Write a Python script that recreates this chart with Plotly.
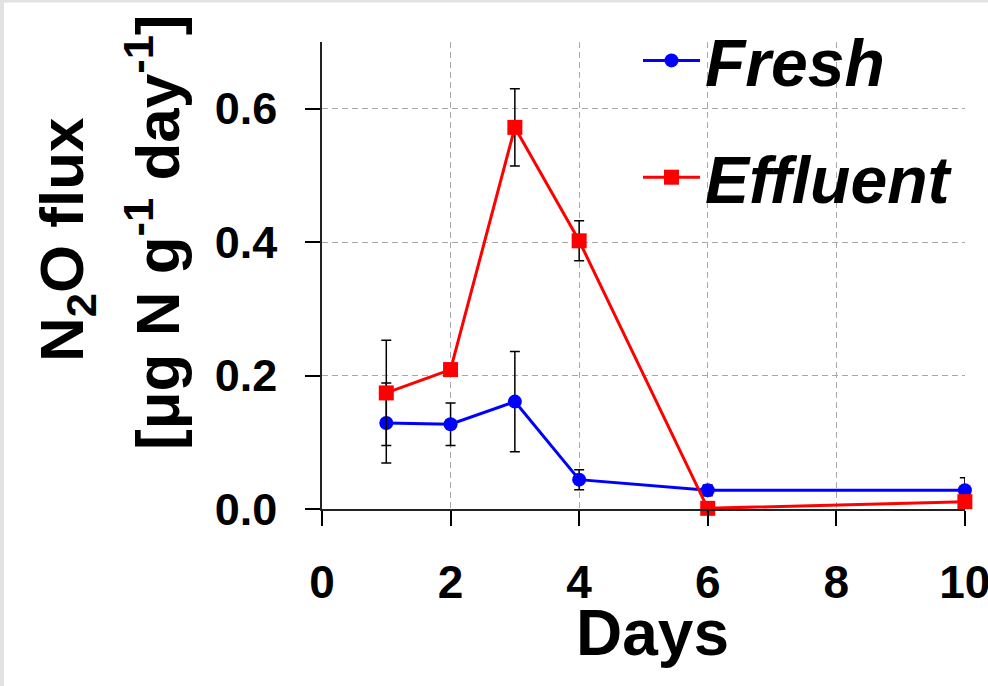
import plotly.graph_objects as go

# ---- data ----
days = [1, 2, 3, 4, 6, 10]
fresh = [0.129, 0.127, 0.161, 0.044, 0.028, 0.028]
fresh_err = [0.060, 0.032, 0.075, 0.015, 0.008, 0.019]
effluent = [0.174, 0.209, 0.572, 0.402, 0.001, 0.011]
effluent_err = [0.079, 0.0, 0.058, 0.030, 0.0, 0.0]
x_ticks = [0, 2, 4, 6, 8, 10]
y_ticks = [0.0, 0.2, 0.4, 0.6]

FONT = "Liberation Sans, Arial, Helvetica, sans-serif"

W, H = 988, 686
L, R, T, B = 322, 23, 42, 177
PW, PH = W - L - R, H - T - B


def px(xp):
    return (xp - L) / PW


def py(yp):
    return (H - B - yp) / PH


fig = go.Figure()
fig.add_trace(go.Scatter(
    x=days, y=fresh, name="Fresh", mode="lines+markers",
    line=dict(color="#0000ff", width=3),
    marker=dict(symbol="circle", size=14, color="#0000ff"),
    error_y=dict(type="data", array=fresh_err, visible=True,
                 color="black", thickness=1.5, width=5),
    cliponaxis=False, legendgroup="a",
))
fig.add_trace(go.Scatter(
    x=days, y=effluent, name="Effluent", mode="lines+markers",
    line=dict(color="#ff0000", width=3),
    marker=dict(symbol="square", size=15, color="#ff0000"),
    error_y=dict(type="data", array=effluent_err, visible=True,
                 color="black", thickness=1.5, width=5),
    cliponaxis=False, legendgroup="b",
))

axis_common = dict(
    showline=True, linecolor="#222", linewidth=1.5,
    ticks="outside", ticklen=15, tickwidth=1.5, tickcolor="black",
    showgrid=True, gridcolor="#a8a8a8", gridwidth=1, griddash="6px,4px",
    zeroline=False, ticklabeloverflow="allow", automargin=False,
)

fig.update_xaxes(
    range=[0, 10.002], tickvals=x_ticks, ticktext=[str(v) for v in x_ticks],
    tickfont=dict(family=FONT, size=46, color="black", weight="bold"),
    ticklabelstandoff=17,
    **axis_common,
)
fig.update_yaxes(
    range=[0, 0.7], tickvals=y_ticks, ticktext=[f"{v:.1f}" for v in y_ticks],
    tickfont=dict(family=FONT, size=45, color="black", weight="bold"),
    ticklabelstandoff=19,
    **axis_common,
)

shapes = [
    # white backdrop behind legend (hides gridlines)
    dict(type="rect", layer="between", xref="paper", yref="paper",
         x0=px(603), x1=px(990), y0=py(233), y1=py(-5),
         fillcolor="white", line=dict(width=0)),
    # faint page edge (left and top)
    dict(type="line", layer="above", xref="paper", yref="paper",
         x0=px(2), x1=px(2), y0=py(H), y1=py(0),
         line=dict(color="#e2e2e2", width=4)),
    dict(type="line", layer="above", xref="paper", yref="paper",
         x0=px(0), x1=px(W), y0=py(1), y1=py(1),
         line=dict(color="#e2e2e2", width=3)),
]

annotations = [
    dict(text="Days", xref="paper", yref="paper", x=px(652), y=py(633),
         xanchor="center", yanchor="middle", showarrow=False,
         font=dict(family=FONT, size=64, color="black", weight="bold")),
    dict(text="N<sub>2</sub>O flux", xref="paper", yref="paper",
         x=px(66), y=py(240), xanchor="center", yanchor="middle",
         textangle=-90, showarrow=False,
         font=dict(family=FONT, size=62, color="black", weight="bold")),
    dict(text="[μg N g<sup>-1</sup> day<sup>-1</sup>]", xref="paper", yref="paper",
         x=px(153), y=py(233), xanchor="center", yanchor="middle",
         textangle=-90, showarrow=False,
         font=dict(family=FONT, size=62, color="black", weight="bold")),
]

fig.update_layout(
    width=W, height=H, autosize=False,
    margin=dict(l=L, r=R, t=T, b=B, pad=0, autoexpand=False),
    paper_bgcolor="white", plot_bgcolor="white",
    shapes=shapes, annotations=annotations,
    showlegend=True,
    legend=dict(
        x=px(638), y=py(11), xanchor="left", yanchor="top",
        bgcolor="rgba(0,0,0,0)", borderwidth=0,
        font=dict(family=FONT, size=66, color="black", weight="bold", style="italic"),
        tracegroupgap=28, itemwidth=57,
    ),
)

fig.write_html("out.html")
